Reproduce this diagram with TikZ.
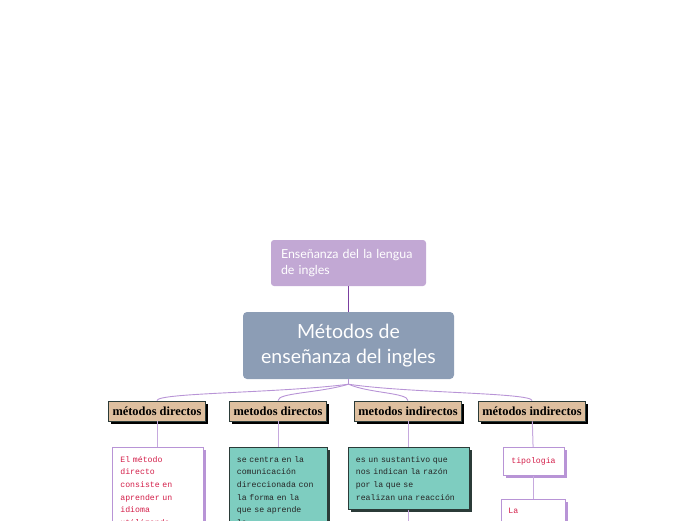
\documentclass[tikz,border=0pt]{standalone}
\usepackage{fontspec}
\setmainfont{Lato}
\newfontfamily\notafont{Liberation Mono}
\newfontfamily\titfont{Liberation Serif}
\usepackage{tikz}
\usetikzlibrary{positioning,shadows,calc}
\definecolor{cmalva}{HTML}{C2A8D4}
\definecolor{cpizarra}{HTML}{8C9DB5}
\definecolor{cmorado}{HTML}{7B3FA0}
\definecolor{clila}{HTML}{B894D6}
\definecolor{carena}{HTML}{DEBF9F}
\definecolor{cturquesa}{HTML}{7ECDC0}
\definecolor{coscuro}{HTML}{2B3B38}
\definecolor{crojo}{HTML}{D41F4A}
\tikzset{
  tema/.style={rectangle, rounded corners=3pt, fill=cmalva, text=white,
    minimum width=155, minimum height=46, align=left, text width=135,
    font=\fontsize{12.4}{16}\selectfont},
  central/.style={rectangle, rounded corners=4pt, fill=cpizarra, text=white,
    minimum width=211, minimum height=67, align=center,
    font=\fontsize{19.5}{25}\selectfont},
  metodo/.style={rectangle, draw=coscuro, fill=carena, line width=0.8,
    minimum height=20, inner xsep=4, inner ysep=2,
    font=\titfont\bfseries\fontsize{12.4}{13}\selectfont,
    drop shadow={shadow xshift=2.5pt, shadow yshift=-2.5pt, fill=black, opacity=1}},
  notab/.style={rectangle, draw=clila, fill=white, line width=0.8, text=crojo,
    anchor=north west, align=left, inner xsep=8, inner ysep=9,
    font=\notafont\fontsize{8.2}{12.6}\selectfont,
    drop shadow={shadow xshift=3pt, shadow yshift=-3pt, fill=clila, opacity=1}},
  notav/.style={rectangle, draw=coscuro, fill=cturquesa, line width=0.8, text=black!85,
    anchor=north west, align=left, inner xsep=7.5, inner ysep=9,
    font=\notafont\fontsize{8.2}{12.6}\selectfont,
    drop shadow={shadow xshift=3pt, shadow yshift=-3pt, fill=coscuro, opacity=1}},
  rama/.style={draw=clila, line width=0.9},
  enlace/.style={draw=clila!80, line width=1},
}

\begin{document}
\begin{tikzpicture}[x=1pt, y=-1pt]
  \useasboundingbox (0,0) rectangle (696,520);
  \clip (0,0) rectangle (696,520);
  \node[tema] (tema) at (348.5,263) {Enseñanza del la lengua\\de ingles};
  \node[central] (central) at (348.5,345.5) {Métodos de\\enseñanza del ingles};
  \draw[cmorado, line width=1.1] (tema) -- (central);

  \node[metodo] (m1) at (157,411) {métodos directos};
  \node[metodo] (m2) at (278,411) {metodos directos};
  \node[metodo] (m3) at (408,411) {metodos indirectos};
  \node[metodo] (m4) at (532,411) {métodos indirectos};

  \coordinate (nudo) at ($(central.south)+(0,5)$);
  \draw[rama] (central.south) -- (nudo);
  \draw[rama] (nudo) .. controls +(-70,9) and +(0,-8) .. (m1.north);
  \draw[rama] (nudo) .. controls +(-30,9) and +(0,-8) .. (m2.north);
  \draw[rama] (nudo) .. controls +(20,9) and +(0,-8) .. (m3.north);
  \draw[rama] (nudo) .. controls +(60,9) and +(0,-8) .. (m4.north);

  % notas
  \node[notab, text width=75] (n1) at (112,447)
    {El método\\directo\\consiste en\\aprender un\\idioma\\utilizando};
  \node[notav, text width=83] (n2) at (229,447)
    {se centra en la\\comunicación\\direccionada con\\la forma en la\\que se aprende\\la};
  \node[notav, text width=106] (n3) at (348,447)
    {es un sustantivo que\\nos indican la razón\\por la que se\\realizan una reacción};
  \node[notab, minimum width=61, minimum height=28, align=center, inner ysep=4,
    anchor=north] (tipo) at (533.5,447) {tipologia};
  \node[notab, text width=50, inner xsep=7, text depth=25] (la) at (501,499) {La};

  \draw[enlace] (m1) -- (m1 |- n1.north);
  \draw[enlace] (m2) -- (m2 |- n2.north);
  \draw[enlace] (m3) -- (m3 |- n3.north);
  \draw[enlace] (m4) -- (tipo);
  \draw[enlace] (tipo) -- (tipo |- la.north);
  \coordinate (fin) at ($(n3.south -| m3)+(0,20)$);
  \draw[enlace] (n3.south -| m3) -- (fin);
\end{tikzpicture}
\end{document}
